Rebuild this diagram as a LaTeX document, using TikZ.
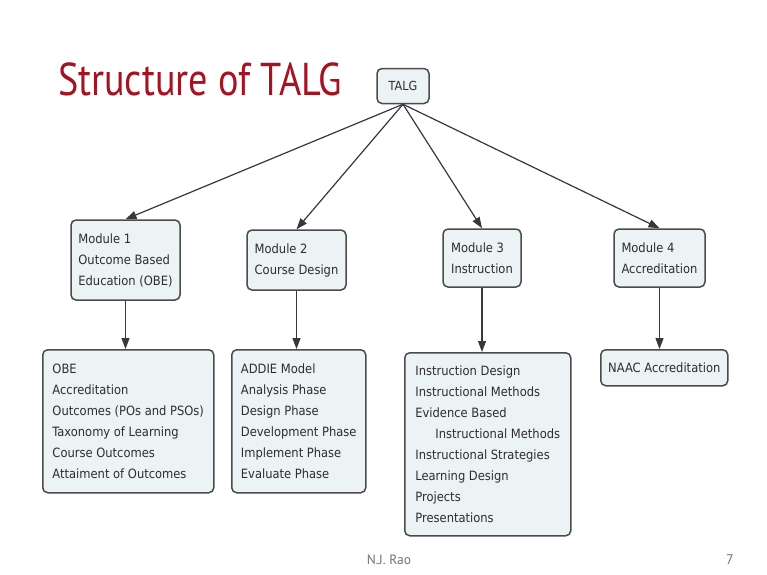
\documentclass[tikz,border=0pt]{standalone}
\usepackage{fontspec}
\usepackage{graphicx}
\setmainfont{DejaVu Sans Condensed}
\newfontfamily\titlefont{PT Sans}
\usetikzlibrary{arrows.meta}
\definecolor{titlered}{RGB}{165,18,32}
\definecolor{boxfill}{RGB}{236,243,245}
\definecolor{boxline}{RGB}{75,75,75}
\definecolor{txt}{RGB}{45,45,45}
\tikzset{
  concept/.style={draw=boxline, line width=1.5pt, fill=boxfill, rounded corners=5pt,
    inner xsep=7pt, inner ysep=6pt, align=left, text=txt,
    font=\fontsize{12.8}{21}\selectfont},
  link/.style={draw=black!78, line width=1.2pt, -{Triangle[length=11pt,width=8pt]}},
}
\begin{document}
\begin{tikzpicture}[x=1pt,y=-1pt]
\useasboundingbox (0,0) rectangle (767,574);
\fill[white] (0,0) rectangle (767,574);

\node[anchor=base west, inner sep=0pt, text=titlered, font=\titlefont\fontsize{46}{46}\selectfont] (title) at (58,95) {\scalebox{0.83}[1]{Structure of TALG}};

\node[concept, minimum width=52pt, minimum height=35pt, align=center, font=\fontsize{12.5}{13}\selectfont] (talg) at (403,86) {TALG};

\node[concept, minimum width=109pt, minimum height=80pt] (m1) at (125.5,260) {Module 1\\Outcome Based\\Education (OBE)};
\node[concept, minimum width=99pt, minimum height=60pt] (m2) at (296.5,260) {Module 2\\Course Design};
\node[concept, minimum width=78pt, minimum height=58pt] (m3) at (482,258) {Module 3\\Instruction};
\node[concept, minimum width=91pt, minimum height=58pt] (m4) at (659.5,258) {Module 4\\Accreditation};

\node[concept, minimum width=171pt, minimum height=143pt, anchor=north west] (b1) at (42,349) {OBE\\Accreditation\\Outcomes (POs and PSOs)\\Taxonomy of Learning\\Course Outcomes\\Attaiment of Outcomes};
\node[concept, minimum width=134pt, minimum height=143pt, anchor=north west] (b2) at (231,349) {ADDIE Model\\Analysis Phase\\Design Phase\\Development Phase\\Implement Phase\\Evaluate Phase};
\node[concept, minimum width=166pt, minimum height=183pt, anchor=north west] (b3) at (404,352) {Instruction Design\\Instructional Methods\\Evidence Based\\\hspace*{20pt}Instructional Methods\\Instructional Strategies\\Learning Design\\Projects\\Presentations};
\node[concept, minimum width=127pt, minimum height=36pt, anchor=north west] (b4) at (600,349) {NAAC Accreditation};

\draw[link] (talg.south) -- (m1.north);
\draw[link] (talg.south) -- (m2.north);
\draw[link] (talg.south) -- (m3.north);
\draw[link] (talg.south) -- (m4.north);

\draw[link] (m1.south) -- (m1.south |- b1.north);
\draw[link] (m2.south) -- (m2.south |- b2.north);
\draw[link] (m3.south) -- (m3.south |- b3.north);
\draw[link] (m4.south) -- (m4.south |- b4.north);

\node[text=black!55, font=\titlefont\fontsize{13.5}{13.5}\selectfont] (author) at (389,560) {N.J. Rao};
\node[text=black!55, font=\titlefont\fontsize{14}{14}\selectfont] (page) at (730,560) {7};
\end{tikzpicture}
\end{document}
